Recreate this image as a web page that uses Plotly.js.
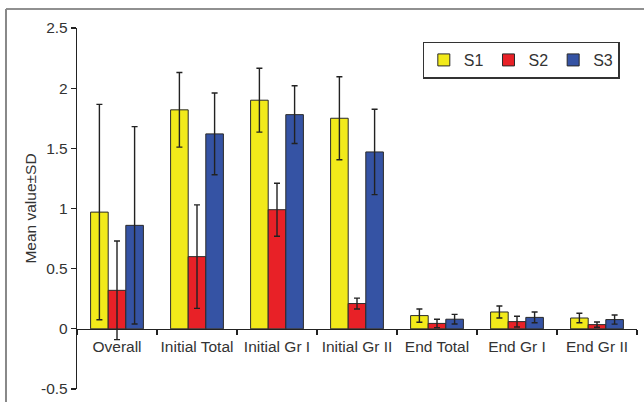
<!DOCTYPE html>
<html>
<head>
<meta charset="utf-8">
<script src="https://cdn.plot.ly/plotly-3.0.1.min.js"></script>
<style>html,body{margin:0;padding:0;background:#fff;}#chart{width:644px;height:402px;}</style>
</head>
<body>
<div id="chart"></div>
<script>
var categories = ["Overall", "Initial Total", "Initial Gr I", "Initial Gr II", "End Total", "End Gr I", "End Gr II"];
var s1Mean = [0.97, 1.82, 1.90, 1.75, 0.11, 0.14, 0.09];
var s1SD   = [0.895, 0.31, 0.265, 0.345, 0.055, 0.05, 0.04];
var s2Mean = [0.32, 0.60, 0.99, 0.21, 0.045, 0.06, 0.035];
var s2SD   = [0.41, 0.43, 0.22, 0.045, 0.035, 0.045, 0.022];
var s3Mean = [0.86, 1.62, 1.78, 1.47, 0.08, 0.095, 0.077];
var s3SD   = [0.82, 0.34, 0.24, 0.355, 0.04, 0.045, 0.038];
var seriesNames = ["S1", "S2", "S3"];
var tickVals = [-0.5, 0, 0.5, 1, 1.5, 2, 2.5];
var tickText = ["-0.5", "0", "0.5", "1", "1.5", "2", "2.5"];

var colors = ["#F2EA1A", "#E82127", "#3553A4"];
var means = [s1Mean, s2Mean, s3Mean];
var sds = [s1SD, s2SD, s3SD];

var traces = means.map(function (m, i) {
  return {
    type: "bar",
    name: seriesNames[i],
    x: categories,
    y: m,
    marker: { color: colors[i], line: { color: "#2a2a2a", width: 1 } },
    error_y: { type: "data", array: sds[i], visible: true, color: "#222", thickness: 1.4, width: 3 }
  };
});

var layout = {
  width: 644,
  height: 402,
  margin: { l: 77, r: 7, t: 28, b: 13, pad: 0 },
  paper_bgcolor: "#fff",
  plot_bgcolor: "rgba(0,0,0,0)",
  font: { family: "Liberation Sans, Arial, sans-serif", color: "#333", size: 15.5 },
  barmode: "group",
  bargap: 0.34,
  bargroupgap: 0,
  showlegend: true,
  legend: {
    orientation: "h",
    x: 0.617, y: 0.962, xanchor: "left", yanchor: "top",
    bgcolor: "#fff", bordercolor: "#333", borderwidth: 1.3,
    font: { size: 16, color: "#333" },
    itemwidth: 30,
    tracegroupgap: 0
  },
  xaxis: {
    type: "category",
    anchor: "free",
    position: 0.1667,
    showline: true, linecolor: "#222", linewidth: 1.2,
    ticks: "outside", tickson: "boundaries", ticklen: 5, tickcolor: "#222", tickwidth: 1.2,
    tickangle: 0,
    ticklabelstandoff: 3,
    showgrid: false, zeroline: false,
    tickfont: { size: 15.5, color: "#333" },
    fixedrange: true
  },
  yaxis: {
    range: [-0.5, 2.5],
    tickvals: tickVals, ticktext: tickText,
    showline: true, linecolor: "#222", linewidth: 1.2,
    ticks: "outside", ticklen: 5, tickcolor: "#222", tickwidth: 1.2,
    showgrid: false, zeroline: false,
    tickfont: { size: 15.5, color: "#333" },
    title: { text: "Mean value±SD", font: { size: 15.5, color: "#333" }, standoff: 0 }
  },
  shapes: [
    { type: "line", xref: "paper", yref: "paper", x0: -0.1268, x1: 1.2, y0: 1.0526, y1: 1.0526, line: { color: "#222", width: 1.2 } },
    { type: "line", xref: "paper", yref: "paper", x0: -0.1268, x1: -0.1268, y0: -0.1, y1: 1.0526, line: { color: "#888", width: 2 } }
  ]
};

Plotly.newPlot("chart", traces, layout, { displayModeBar: false, staticPlot: true });
</script>
</body>
</html>
